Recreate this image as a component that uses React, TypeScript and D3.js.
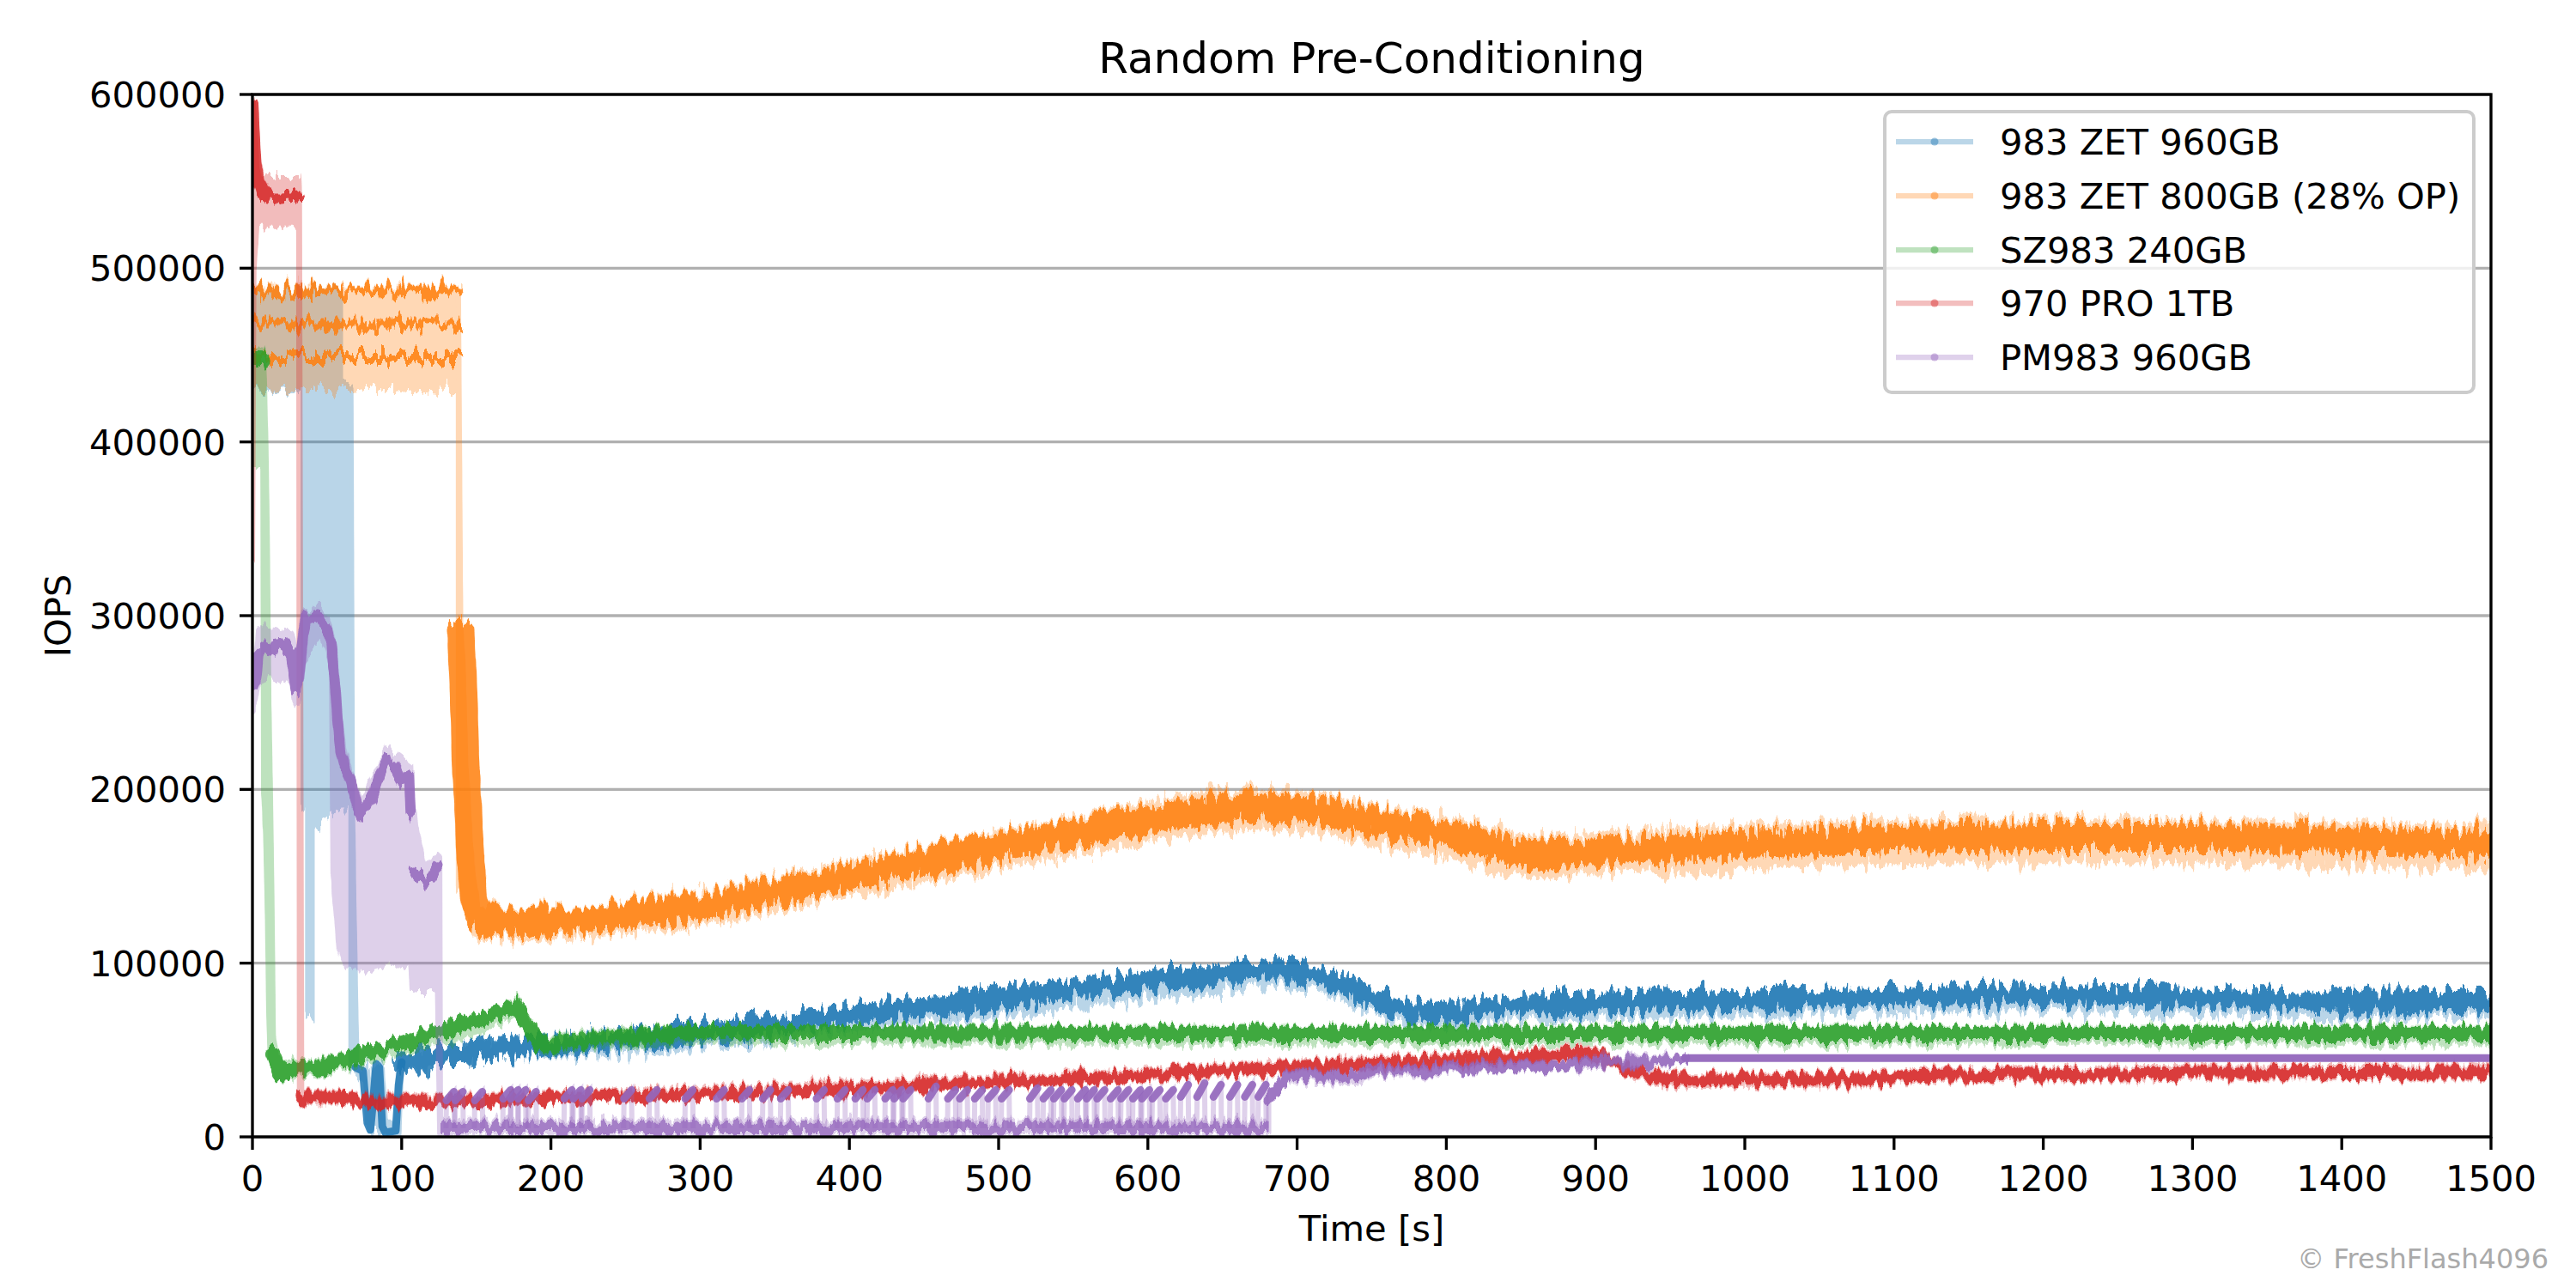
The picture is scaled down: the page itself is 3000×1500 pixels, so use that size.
import * as d3 from "d3";

// ---------- data ----------
const seriesLabels = [
  "983 ZET 960GB",
  "983 ZET 800GB (28% OP)",
  "SZ983 240GB",
  "970 PRO 1TB",
  "PM983 960GB",
];
const seriesColors = ["#1f77b4", "#ff7f0e", "#2ca02c", "#d62728", "#9467bd"];

const timeTicks = [0, 100, 200, 300, 400, 500, 600, 700, 800, 900, 1000, 1100, 1200, 1300, 1400, 1500];
const iopsTicks = [0, 100000, 200000, 300000, 400000, 500000, 600000];

// envelope rows: [time (s), low IOPS, high IOPS]  -> pale band (alpha line)
// core rows: [time (s), IOPS | null]              -> dense marker band
const blueEnvelope = [
  [0, 430000, 488000], [34, 430000, 488000], [34, 190000, 488000], [37, 190000, 488000],
  [37, 70000, 488000], [40, 70000, 488000], [40, 178000, 488000], [59, 190000, 488000],
  [59, 190000, 432000], [66, 190000, 432000], [66, 45000, 432000], [67, 40000, 190000],
  [69, 36000, 85000], [70, 36000, 42000], [76, 36000, 41000], [77, 8000, 40000],
  [79, 3000, 12000], [81, 3000, 40000], [85, 3000, 42000], [87, 1000, 42000], [89, 1000, 6000],
  [96, 1000, 6000], [98, 2000, 42000], [100, 40000, 46000], [115, 40000, 46000], [116, 43000, 50000],
  [145, 44000, 51000], [146, 46000, 53000], [190, 47000, 55000], [250, 48000, 60000],
  [300, 52000, 64000], [350, 57000, 69000], [400, 62000, 74000], [450, 66000, 79000],
  [500, 71000, 84000], [550, 76000, 89000], [600, 80000, 94000], [650, 84000, 98000],
  [685, 88000, 101000], [700, 87000, 99500], [730, 80000, 92000], [760, 68000, 80000],
  [775, 64000, 76000], [800, 64000, 76500], [850, 67000, 79500], [900, 69000, 81500],
  [1000, 70000, 83000], [1100, 72000, 85000], [1175, 73000, 86000], [1270, 72000, 85000],
  [1400, 69000, 82000], [1500, 70000, 82500],
];
// the short dips to ~0 between 69 s and 100 s are thin strings of points
const blueDipCore = [
  [69, 40000], [74, 38000], [77, 8000], [79, 4000], [81, 22000], [83, 42000], [85, 40000],
  [87, 6000], [89, 2500], [96, 3500], [98, 30000], [100, 43000],
];
const blueCore = [
  [100, 43000], [115, 43000], [116, 46500],
  [145, 47500], [146, 50000], [158, 50500], [190, 52000], [250, 56000], [300, 60000],
  [350, 65000], [400, 70000], [450, 75000], [500, 80000], [550, 85000], [600, 90000],
  [650, 94000], [685, 97000], [700, 95500], [730, 88000], [760, 76000], [775, 72000],
  [800, 72500], [850, 75500], [900, 77500], [1000, 79000], [1100, 81000], [1175, 82000],
  [1270, 81000], [1400, 78000], [1500, 78500],
];

const orangeEnvelope = [
  [0, 431000, 489000], [138, 431000, 489000], [138, 144000, 489000], [139.5, 144000, 300000],
  [141, 140000, 275000], [143, 130000, 215000], [146, 125000, 170000], [148, 120000, 150000],
  [151, 116000, 133000], [184, 114000, 131000], [220, 115000, 132000], [250, 118000, 135000],
  [316, 125000, 143000], [382, 136000, 155000], [448, 147000, 166000], [514, 158000, 178000],
  [580, 167000, 188000], [624, 174000, 196000], [668, 178000, 200000], [712, 176000, 197000],
  [756, 168000, 189000], [808, 160000, 182000], [855, 150000, 172000], [900, 152000, 174000],
  [1000, 155000, 178000], [1100, 158000, 181000], [1200, 159000, 182000], [1300, 159000, 182000],
  [1400, 157000, 180000], [1500, 155000, 178000],
];
const orangeBurstLevels = [487000, 468000, 449000];
const orangeBurstSpan = [0, 138];
const orangeCore = [
  [139.5, 290000], [141, 268000], [142, 240000], [143, 210000], [144.5, 190000], [146, 160000],
  [148, 140000], [151, 127000], [160, 124000], [184, 123500], [220, 124500], [250, 127500],
  [316, 135000], [382, 146500], [448, 158000], [514, 169500], [580, 179000], [624, 186000],
  [668, 190000], [712, 188000], [756, 180500], [808, 173000], [855, 162500], [900, 164000],
  [1000, 168500], [1100, 171500], [1200, 172500], [1300, 172500], [1400, 170500], [1500, 168500],
];

const greenEnvelope = [
  [0, 388000, 452000], [7, 388000, 452000], [7.5, 200000, 450000], [9, 170000, 400000],
  [10, 130000, 340000], [11, 68000, 250000], [12, 45000, 200000], [13, 42000, 140000],
  [14, 40000, 60000], [16, 37000, 47000], [21, 32000, 40000], [24, 34000, 43000],
  [44, 36000, 44000], [100, 48000, 56000], [150, 60000, 69000], [177, 70000, 79000],
  [192, 49000, 57000], [250, 53000, 62000], [300, 54000, 63000], [1500, 54000, 63000],
];
const greenCore = [
  [0, 447000], [7, 447000], [7.2, null], [13.5, 48000], [15, 45000], [18, 38000], [21, 35500],
  [24, 38000], [30, 39000], [44, 40000], [100, 54000], [150, 67000], [177, 75000],
  [192, 53000], [250, 58000], [300, 60000], [400, 60000], [600, 59500], [800, 59500],
  [1000, 59500], [1200, 59500], [1500, 59500],
];

const redEnvelope = [
  [0, 330000, 600000], [1, 500000, 590000], [3, 525000, 560000], [5, 525000, 552000],
  [31, 525000, 552000], [31.5, 22000, 545000], [33, 20000, 26000], [60, 20000, 26000],
  [62, 18000, 23500], [127, 18000, 23500], [200, 20000, 25500], [300, 22000, 28000],
  [400, 25000, 31000], [494, 29000, 35000], [582, 32000, 38000], [670, 36000, 42000],
  [759, 39500, 45500], [817, 42000, 48000], [860, 43500, 49500], [880, 45000, 51000],
  [895, 45000, 51000], [920, 37000, 43000], [945, 29500, 36000], [1085, 30000, 36000],
  [1107, 32000, 38000], [1270, 33500, 40000], [1500, 34500, 41000],
];
const redCore = [
  [0, 595000], [1, 578000], [2, 562000], [4, 550000], [6, 545000], [10, 541000], [20, 541000],
  [31, 542000], [31.5, null], [33, 23000], [60, 23000], [62, 20500], [127, 20500],
  [200, 22500], [300, 24500], [400, 27500], [494, 31600], [582, 34900], [670, 39000],
  [759, 42300], [817, 44800], [860, 46500], [880, 48000], [895, 48000], [920, 40000],
  [945, 33000], [1085, 33000], [1107, 35000], [1270, 36600], [1500, 37400],
];

const purpleEnvelope = [
  [0, 245000, 268000], [2, 250000, 275000], [4, 262000, 292000], [12, 265000, 292000],
  [26, 262000, 290000], [29, 250000, 275000], [31, 252000, 280000], [34, 275000, 300000],
  [45, 285000, 305000], [50, 280000, 300000], [53, 270000, 290000], [54, 150000, 285000],
  [58, 110000, 245000], [62, 100000, 220000], [70, 100000, 200000], [73, 95000, 192000],
  [90, 100000, 224000], [106, 100000, 214000], [107, 85000, 190000], [115, 85000, 155000],
  [124, 85000, 162000], [125.5, 0, 160000], [126, 1500, 9000], [681, 1500, 9000],
  [681, 20000, 24000], [693, 32000, 37000], [743, 31000, 37500], [745, 35500, 40000],
  [795, 36000, 40500], [800, 37500, 42000], [830, 38500, 43000], [880, 38500, 43000],
  [890, 40500, 45500], [950, 41000, 46000], [960, 44500, 46500],
];
const purpleCore = [
  [0, 258000], [2, 262000], [4, 278000], [8, 282000], [12, 280000], [20, 283000],
  [26, 278000], [29, 258000], [31, 262000], [34, 290000], [36, 298000], [45, 300000],
  [50, 292000], [53, 282000], [55, 265000], [57, 240000], [59, 222000], [62, 212000],
  [66, 205000], [70, 192000], [73, 186000], [80, 195000], [86, 210000], [90, 218000],
  [95, 213000], [100, 205000], [105, 208000], [106, 186000], [107, null], [108, 152000],
  [115, 147000], [120, 150000], [124, 156000], [125, null], [681, 22000], [693, 34500],
  [743, 35000], [745, 38200], [795, 38500], [800, 39800], [830, 40500], [880, 40500],
  [890, 43000], [950, 43500], [960, 45400],
];
// from ~960 s the PM983 sits on a steady, noise-free level
const purpleFlat = [[960, 45400], [1500, 45400]];
// purple write bursts between 125 s and 680 s: [start time (s), IOPS at start, IOPS at end]
const purpleBurstLength = 5;
const purpleBurstBase = 5000;
const purpleBursts = [
  [130, 21000, 26000], [136, 21000, 26000], [149, 21000, 26000], [168, 22000, 27000],
  [173, 22000, 27000], [178, 22000, 27000], [185, 21000, 26000], [209, 22000, 27000],
  [215, 22000, 27000], [221, 22000, 27000], [249, 22000, 27000], [266, 22000, 27000],
  [290, 22000, 27000], [311, 22000, 27000], [328, 22000, 27000], [342, 22000, 27000],
  [354, 22000, 27000], [378, 22000, 27000], [392, 22000, 27000], [404, 22000, 27000],
  [412, 22000, 27000], [424, 22000, 27000], [430, 22000, 27000], [436, 22000, 27000],
  [453, 22000, 29000], [466, 22000, 27000], [474, 22000, 27000], [484, 22000, 27000],
  [493, 22000, 27000], [502, 22000, 27000], [521, 22000, 28000], [530, 22000, 27000],
  [537, 22000, 27000], [544, 22000, 27000], [553, 22000, 27000], [559, 22000, 27000],
  [566, 22000, 27000], [575, 22000, 27000], [582, 22000, 27000], [590, 22000, 27000],
  [596, 22000, 27000], [603, 22000, 27000], [612, 22000, 27000], [622, 23000, 30000],
  [633, 23000, 31000], [644, 23000, 30000], [655, 23000, 30000], [665, 23000, 30000],
  [674, 23000, 30000],
];
const purpleBaseBand = [[126, 2000, 8500], [681, 2000, 8500]];

// ---------- layout ----------
const width = 3000;
const height = 1500;
const plot = { left: 294, right: 2901, top: 110, bottom: 1324 };
const font = "DejaVu Sans, sans-serif";

export default function App() {
  const x = d3.scaleLinear().domain([0, 1500]).range([plot.left, plot.right]);
  const y = d3.scaleLinear().domain([0, 600000]).range([plot.bottom, plot.top]);

  const band = d3
    .area<number[]>()
    .x((d) => x(d[0]))
    .y0((d) => y(d[1]))
    .y1((d) => y(d[2]));
  const line = d3
    .line<(number | null)[]>()
    .defined((d) => d[1] !== null)
    .x((d) => x(d[0] as number))
    .y((d) => y(d[1] as number));

  const series = [
    { env: blueEnvelope, core: blueCore, w: 23, jit: "jitterStrong" },
    { env: orangeEnvelope, core: orangeCore, w: 32, jit: "jitterStrong" },
    { env: greenEnvelope, core: greenCore, w: 17, jit: "jitterLight" },
    { env: redEnvelope, core: redCore, w: 14, jit: "jitterLight" },
    { env: purpleEnvelope, core: purpleCore, w: 12, jit: "jitterLight" },
  ];

  const legendRows = [165, 228, 291, 353, 416];

  // vertical-only displacement: the R channel is flattened to 0.5, so x never moves
  const jitter = (id: string, scale: number, seed: number) => (
    <filter id={id} filterUnits="userSpaceOnUse" x={0} y={0} width={width} height={height}>
      <feTurbulence type="fractalNoise" baseFrequency="0.16 0.03" numOctaves={3} seed={seed} result="noise" />
      <feColorMatrix
        in="noise"
        type="matrix"
        values="0 0 0 0 0.5  0 1 0 0 0  0 0 1 0 0  0 0 0 0 1"
        result="vnoise"
      />
      <feDisplacementMap in="SourceGraphic" in2="vnoise" scale={scale} xChannelSelector="R" yChannelSelector="G" />
    </filter>
  );

  return (
    <svg
      width={width}
      height={height}
      style={{ position: "absolute", left: 0, top: 0, background: "#fff" }}
      fontFamily={font}
    >
      <defs>
        <clipPath id="plotClip">
          <rect x={plot.left} y={plot.top} width={plot.right - plot.left} height={plot.bottom - plot.top} />
        </clipPath>
        {jitter("jitterStrong", 36, 4)}
        {jitter("jitterLight", 22, 9)}
      </defs>
      <rect width={width} height={height} fill="#fff" />

      {/* grid */}
      {iopsTicks.map((t) => (
        <line key={"g" + t} x1={plot.left} x2={plot.right} y1={y(t)} y2={y(t)} stroke="#b0b0b0" strokeWidth={3.3} />
      ))}

      <g clipPath="url(#plotClip)">
        {series.map((s, i) => {
          const c = seriesColors[i];
          return (
            <g key={i}>
              <g opacity={0.3} filter={`url(#${s.jit})`}>
                <path d={band(s.env) ?? ""} fill={c} stroke={c} strokeWidth={6} strokeLinejoin="round" />
              </g>
              <g opacity={0.85} filter={`url(#${s.jit})`}>
                <path
                  d={line(s.core) ?? ""}
                  fill="none"
                  stroke={c}
                  strokeWidth={s.w}
                  strokeLinejoin="round"
                  strokeLinecap="round"
                />
                {i === 1 &&
                  orangeBurstLevels.map((lv) => (
                    <line
                      key={lv}
                      x1={x(orangeBurstSpan[0])}
                      x2={x(orangeBurstSpan[1])}
                      y1={y(lv)}
                      y2={y(lv)}
                      stroke={c}
                      strokeWidth={11}
                      strokeLinecap="round"
                    />
                  ))}
                {i === 4 && <path d={band(purpleBaseBand) ?? ""} fill={c} fillOpacity={0.9} />}
              </g>
              {i === 0 && (
                <path
                  d={line(blueDipCore) ?? ""}
                  fill="none"
                  stroke={c}
                  strokeOpacity={0.85}
                  strokeWidth={9}
                  strokeLinejoin="round"
                  strokeLinecap="round"
                />
              )}
              {i === 4 && (
                <path
                  d={line(purpleFlat) ?? ""}
                  fill="none"
                  stroke={c}
                  strokeOpacity={0.95}
                  strokeWidth={9}
                  strokeLinecap="round"
                />
              )}
              {i === 4 &&
                purpleBursts.map(([t, a, b]) => (
                  <g key={t}>
                    <path
                      d={
                        line([
                          [t - 0.3, purpleBurstBase],
                          [t, a],
                          [t + purpleBurstLength, b],
                          [t + purpleBurstLength + 0.3, purpleBurstBase],
                        ]) ?? ""
                      }
                      fill="none"
                      stroke={c}
                      strokeOpacity={0.3}
                      strokeWidth={6}
                    />
                    <path
                      d={line([[t, a], [t + purpleBurstLength, b]]) ?? ""}
                      fill="none"
                      stroke={c}
                      strokeOpacity={0.9}
                      strokeWidth={9}
                      strokeLinecap="round"
                    />
                  </g>
                ))}
            </g>
          );
        })}
      </g>

      {/* spines */}
      <rect
        x={plot.left}
        y={plot.top}
        width={plot.right - plot.left}
        height={plot.bottom - plot.top}
        fill="none"
        stroke="#000"
        strokeWidth={3.33}
      />

      {/* x axis */}
      {timeTicks.map((t) => (
        <g key={"x" + t}>
          <line x1={x(t)} x2={x(t)} y1={plot.bottom} y2={plot.bottom + 15} stroke="#000" strokeWidth={3.33} />
          <text x={x(t)} y={1387} textAnchor="middle" fontSize={41.67}>
            {t}
          </text>
        </g>
      ))}
      <text x={(plot.left + plot.right) / 2} y={1445} textAnchor="middle" fontSize={41.67}>
        Time [s]
      </text>

      {/* y axis */}
      {iopsTicks.map((t) => (
        <g key={"y" + t}>
          <line x1={plot.left - 15} x2={plot.left} y1={y(t)} y2={y(t)} stroke="#000" strokeWidth={3.33} />
          <text x={263} y={y(t)} dy="0.36em" textAnchor="end" fontSize={41.67}>
            {t}
          </text>
        </g>
      ))}
      <text transform={`translate(82, ${(plot.top + plot.bottom) / 2}) rotate(-90)`} textAnchor="middle" fontSize={41.67}>
        IOPS
      </text>

      {/* title */}
      <text x={(plot.left + plot.right) / 2} y={85} textAnchor="middle" fontSize={50}>
        Random Pre-Conditioning
      </text>

      {/* legend */}
      <rect x={2195} y={130} width={686} height={327} rx={8} fill="#fff" fillOpacity={0.8} stroke="#cccccc" strokeWidth={4} />
      {seriesLabels.map((lab, i) => (
        <g key={lab}>
          <line
            x1={2208}
            x2={2298}
            y1={legendRows[i]}
            y2={legendRows[i]}
            stroke={seriesColors[i]}
            strokeOpacity={0.3}
            strokeWidth={6.25}
          />
          <circle cx={2253} cy={legendRows[i]} r={4.5} fill={seriesColors[i]} fillOpacity={0.45} />
          <text x={2329} y={legendRows[i]} dy="0.36em" fontSize={41.67}>
            {lab}
          </text>
        </g>
      ))}

      {/* watermark */}
      <text x={2968} y={1477} textAnchor="end" fontSize={32} fill="#aaaaaa">
        © FreshFlash4096
      </text>
    </svg>
  );
}
